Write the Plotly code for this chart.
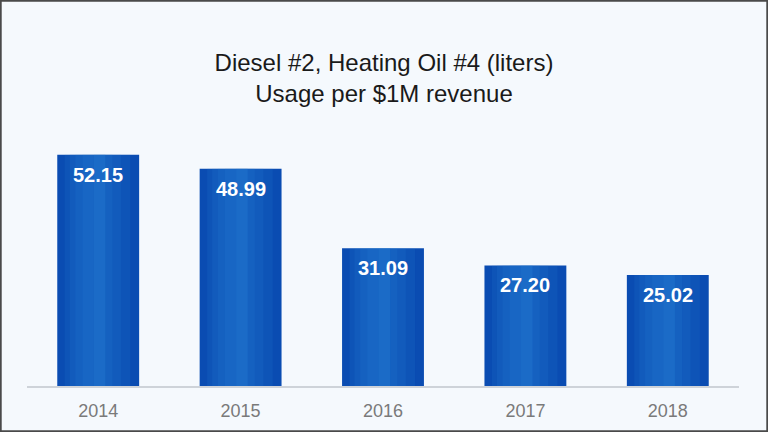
import plotly.graph_objects as go

# values
years = ['2014', '2015', '2016', '2017', '2018']
usage = [52.15, 48.99, 31.09, 27.20, 25.02]
labels = ['52.15', '48.99', '31.09', '27.20', '25.02']

W, H = 768, 432
m_l, m_r, m_t, m_b = 27, 29, 120, 46

fig = go.Figure()

# main bars
fig.add_trace(go.Bar(
    x=years, y=usage, width=0.575,
    marker=dict(color='#0A4CB2', line=dict(width=0)),
    hoverinfo='skip'))
# soft lighter layers to hint at the glossy texture
for w, off, a in [(0.46, -0.235, 0.14), (0.36, -0.2, 0.14), (0.26, -0.16, 0.14),
                  (0.16, -0.11, 0.14), (0.08, -0.03, 0.16)]:
    fig.add_trace(go.Bar(
        x=years, y=usage, width=w, offset=off,
        marker=dict(color='rgba(45,135,220,%s)' % a, line=dict(width=0)),
        hoverinfo='skip'))

# value labels just under the top of each bar
# (category axis: annotations take the category index)
annots = []
for i, (v, lab) in enumerate(zip(usage, labels)):
    annots.append(dict(
        x=i, y=v, xref='x', yref='y', text='<b>%s</b>' % lab,
        showarrow=False, yanchor='top', yshift=-7,
        font=dict(family='Liberation Sans, Arial', size=20, color='white')))

pw = W - m_l - m_r
ph = H - m_t - m_b

fig.update_layout(
    width=W, height=H,
    barmode='overlay',
    showlegend=False,
    margin=dict(l=m_l, r=m_r, t=m_t, b=m_b),
    paper_bgcolor='#F5F9FD',
    plot_bgcolor='#F5F9FD',
    font=dict(family='Liberation Sans, Arial', color='#222222'),
    title=dict(
        text='Diesel #2, Heating Oil #4 (liters)<br>Usage per $1M revenue',
        x=0.5, xanchor='center', y=1 - 71 / H, yanchor='middle',
        font=dict(size=24, color='#1A1A1A')),
    xaxis=dict(
        type='category',
        showline=True, linecolor='#CED3D9', linewidth=1.5,
        ticks='', showgrid=False, zeroline=False,
        tickfont=dict(size=18, color='#7A7A7A'),
        ticklabelstandoff=8),
    yaxis=dict(
        range=[0, 60], visible=False, showgrid=False, zeroline=False),
    annotations=annots,
    shapes=[dict(
        type='rect', xref='paper', yref='paper',
        x0=-m_l / pw + 0.001, x1=1 + m_r / pw - 0.001,
        y0=-m_b / ph + 0.003, y1=1 + m_t / ph - 0.003,
        line=dict(color='#4A4A4A', width=2), layer='above')],
)

fig.write_html("out.html", config={'displayModeBar': False},
               post_script="document.body.style.margin='0';")
